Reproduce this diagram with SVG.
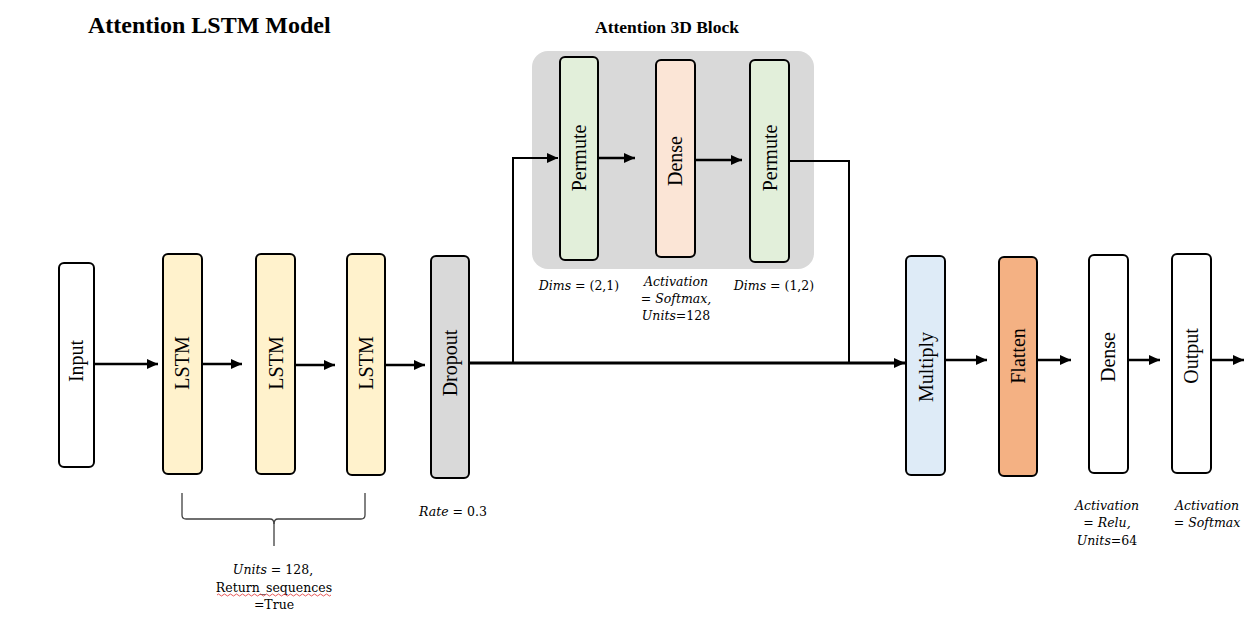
<svg xmlns="http://www.w3.org/2000/svg" width="1253" height="643" viewBox="0 0 1253 643">
<style>
.node{stroke:#000;stroke-width:2;}
.lbl{font-family:"Liberation Serif","Times New Roman",serif;font-size:20px;fill:#000;text-anchor:middle;}
.title{font-family:"Liberation Serif","Times New Roman",serif;font-weight:bold;fill:#000;}
.m{font-family:"DejaVu Serif","Liberation Serif",serif;font-size:12.5px;fill:#000;text-anchor:middle;}
.i{font-style:italic;}
.c{fill:none;stroke:#000;stroke-width:2.5;}
.c2{fill:none;stroke:#000;stroke-width:2;}
</style>
<defs>
<marker id="ah" markerUnits="userSpaceOnUse" markerWidth="12" markerHeight="10" refX="11" refY="5" orient="auto">
<path d="M0,0 L11,5 L0,10 Z" fill="#000"/>
</marker>
</defs>
<rect width="1253" height="643" fill="#fff"/>

<text class="title" x="88" y="33" font-size="24">Attention LSTM Model</text>
<text class="title" x="667" y="33" font-size="17.5" text-anchor="middle">Attention 3D Block</text>

<rect id="attention-block" x="532" y="51" width="282" height="218" rx="16" fill="#d9d9d9"/>

<g id="connectors">
<line class="c" x1="94" y1="364" x2="158" y2="364" marker-end="url(#ah)"/>
<line class="c" x1="202" y1="364" x2="242" y2="364" marker-end="url(#ah)"/>
<line class="c" x1="296" y1="365" x2="335" y2="365" marker-end="url(#ah)"/>
<line class="c" x1="385" y1="365" x2="425" y2="365" marker-end="url(#ah)"/>
<line fill="none" stroke="#000" stroke-width="3" x1="469" y1="363" x2="905" y2="363" marker-end="url(#ah)"/>
<path class="c2" d="M513,363 V158 H558" marker-end="url(#ah)"/>
<line class="c" x1="599" y1="158" x2="635" y2="158" marker-end="url(#ah)"/>
<line class="c" x1="695" y1="160" x2="742" y2="160" marker-end="url(#ah)"/>
<path class="c2" d="M789,161 H849 V363"/>
<line class="c" x1="945" y1="360" x2="987" y2="360" marker-end="url(#ah)"/>
<line class="c" x1="1037" y1="360" x2="1071" y2="360" marker-end="url(#ah)"/>
<line class="c" x1="1128" y1="360" x2="1160" y2="360" marker-end="url(#ah)"/>
<line class="c" x1="1211" y1="360" x2="1244" y2="360" marker-end="url(#ah)"/>
</g>

<g id="input"><rect class="node" x="59" y="263" width="35" height="204" rx="5" fill="#fff"/>
<text class="lbl" transform="translate(76,361) rotate(-90)" y="7">Input</text></g>
<g id="lstm1"><rect class="node" x="163" y="254" width="39" height="220" rx="5" fill="#fff2cc"/>
<text class="lbl" transform="translate(182,363) rotate(-90)" y="7">LSTM</text></g>
<g id="lstm2"><rect class="node" x="256" y="254" width="39" height="220" rx="5" fill="#fff2cc"/>
<text class="lbl" transform="translate(276,363) rotate(-90)" y="7">LSTM</text></g>
<g id="lstm3"><rect class="node" x="347" y="254" width="38" height="221" rx="5" fill="#fff2cc"/>
<text class="lbl" transform="translate(366,363) rotate(-90)" y="7">LSTM</text></g>
<g id="dropout"><rect class="node" x="431" y="256" width="38" height="222" rx="5" fill="#d9d9d9"/>
<text class="lbl" transform="translate(450,363) rotate(-90)" y="7">Dropout</text></g>

<g id="permute1"><rect class="node" x="560" y="57" width="38" height="203" rx="5" fill="#e2efda"/>
<text class="lbl" transform="translate(579,158) rotate(-90)" y="7">Permute</text></g>
<g id="dense-attn"><rect class="node" x="656" y="60" width="39" height="197" rx="5" fill="#fbe5d6"/>
<text class="lbl" transform="translate(675,161) rotate(-90)" y="7">Dense</text></g>
<g id="permute2"><rect class="node" x="750" y="60" width="39" height="202" rx="5" fill="#e2efda"/>
<text class="lbl" transform="translate(770,158) rotate(-90)" y="7">Permute</text></g>

<g id="multiply"><rect class="node" x="906" y="256" width="39" height="219" rx="5" fill="#deebf7"/>
<text class="lbl" transform="translate(926,367) rotate(-90)" y="7">Multiply</text></g>
<g id="flatten"><rect class="node" x="999" y="257" width="38" height="219" rx="5" fill="#f4b183"/>
<text class="lbl" transform="translate(1018,356) rotate(-90)" y="7">Flatten</text></g>
<g id="dense"><rect class="node" x="1089" y="255" width="39" height="218" rx="5" fill="#fff"/>
<text class="lbl" transform="translate(1108,357) rotate(-90)" y="7">Dense</text></g>
<g id="output"><rect class="node" x="1172" y="254" width="39" height="219" rx="5" fill="#fff"/>
<text class="lbl" transform="translate(1191,356) rotate(-90)" y="7">Output</text></g>

<g id="brace" fill="none" stroke="#404040" stroke-width="1.3">
<path d="M182,493 V515 Q182,519 186,519 H270 Q274,519 274,524 V546"/>
<path d="M365,493 V515 Q365,519 361,519 H278 Q274,519 274,524"/>
</g>

<g id="annotations">
<text class="m" x="579" y="290"><tspan class="i">Dims</tspan> = (2,1)</text>
<text class="m" x="676" y="286"><tspan class="i">Activation</tspan></text>
<text class="m" x="676" y="303">= <tspan class="i">Softmax,</tspan></text>
<text class="m" x="676" y="320"><tspan class="i">Units</tspan>=128</text>
<text class="m" x="774" y="290"><tspan class="i">Dims</tspan> = (1,2)</text>
<text class="m" x="453" y="516"><tspan class="i">Rate</tspan> = 0.3</text>
<text class="m" x="273" y="574"><tspan class="i">Units</tspan> = 128,</text>
<text class="m" x="274" y="592">Return_sequences</text>
<path d="M217,595 q1.5,-2 3,0 t3,0 t3,0 t3,0 t3,0 t3,0 t3,0 t3,0 t3,0 t3,0 t3,0 t3,0 t3,0 t3,0 t3,0 t3,0 t3,0 t3,0 t3,0 t3,0 t3,0 t3,0 t3,0 t3,0 t3,0 t3,0 t3,0 t3,0 t3,0 t3,0 t3,0 t3,0 t3,0 t3,0 t3,0 t3,0 t3,0 t3,0" fill="none" stroke="#e03030" stroke-width="0.8"/>
<text class="m" x="274" y="609">=True</text>
<text class="m" x="1107" y="510"><tspan class="i">Activation</tspan></text>
<text class="m" x="1107" y="527">= <tspan class="i">Relu,</tspan></text>
<text class="m" x="1107" y="545"><tspan class="i">Units</tspan>=64</text>
<text class="m" x="1207" y="510"><tspan class="i">Activation</tspan></text>
<text class="m" x="1207" y="527">= <tspan class="i">Softmax</tspan></text>
</g>
</svg>
